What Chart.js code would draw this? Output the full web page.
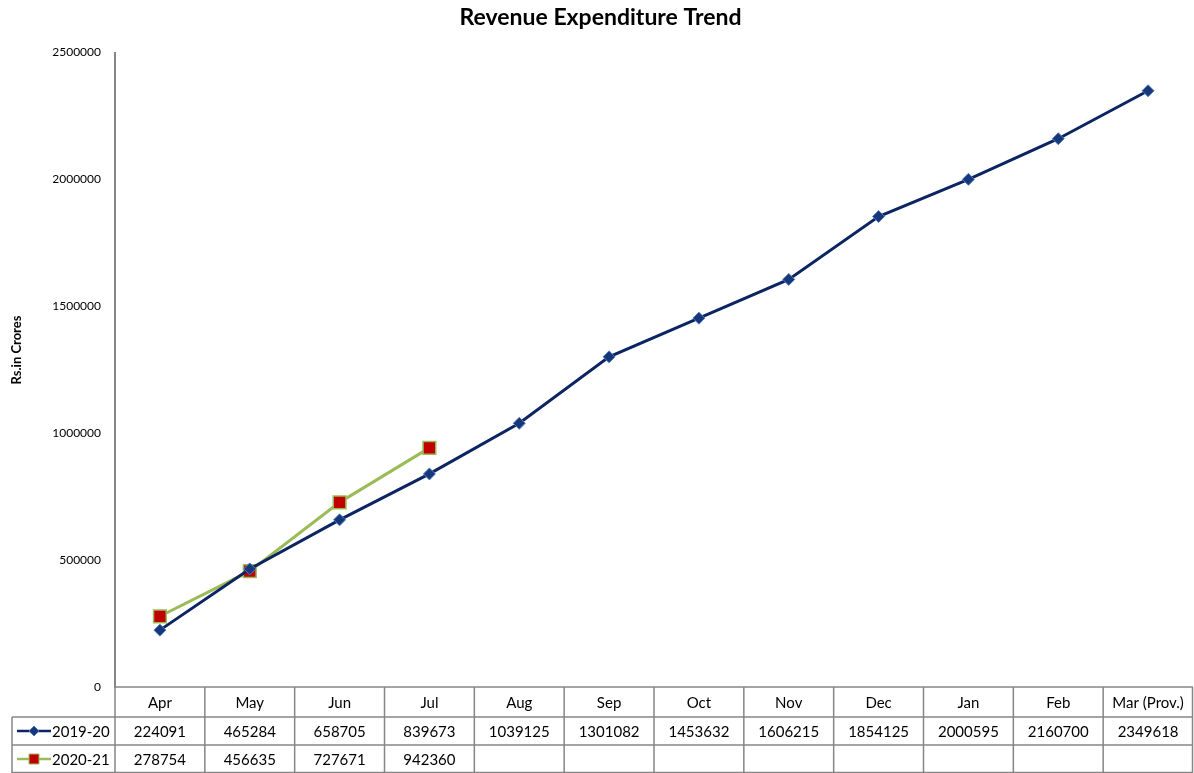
<!DOCTYPE html>
<html><head><meta charset="utf-8">
<script src="https://cdn.jsdelivr.net/npm/chart.js@4.4.0/dist/chart.umd.min.js"></script>
<style>html,body{margin:0;padding:0;background:#fff;}#wrap{width:1194px;height:773px;position:relative;}</style>
</head><body><div id="wrap"><canvas id="c" width="1194" height="773"></canvas></div>
<script>
const categories = ["Apr","May","Jun","Jul","Aug","Sep","Oct","Nov","Dec","Jan","Feb","Mar (Prov.)"];
const series2019 = [224091,465284,658705,839673,1039125,1301082,1453632,1606215,1854125,2000595,2160700,2349618];
const series2020 = [278754,456635,727671,942360,null,null,null,null,null,null,null,null];
const seriesNames = ["2019-20","2020-21"];
const yTitle = 'Rs.in Crores';
const FONT = "Lato, 'Open Sans', sans-serif";
const GRID = '#868686';

const tablePlugin = {
  id:'dataTable',
  afterDraw(chart){
    const ctx = chart.ctx, ca = chart.chartArea, xs = chart.scales.x;
    const rowTops=[ca.bottom, ca.bottom+30, ca.bottom+58, 773];
    const colW = (ca.right-ca.left)/categories.length;
    const legLeft = 12;
    ctx.save();
    // y axis title
    ctx.fillStyle='#000'; ctx.font='bold 13px '+FONT; ctx.textAlign='center'; ctx.textBaseline='middle';
    ctx.translate(17, 350); ctx.rotate(-Math.PI/2); ctx.fillText(yTitle,0,0);
    ctx.setTransform(1,0,0,1,0,0);
    ctx.strokeStyle=GRID; ctx.lineWidth=1.5;
    ctx.beginPath();
    ctx.moveTo(ca.left, rowTops[0]); ctx.lineTo(ca.right, rowTops[0]);
    ctx.moveTo(legLeft, rowTops[1]); ctx.lineTo(ca.right, rowTops[1]);
    ctx.moveTo(legLeft, rowTops[2]); ctx.lineTo(ca.right, rowTops[2]);
    ctx.moveTo(legLeft, rowTops[3]-0.5); ctx.lineTo(ca.right, rowTops[3]-0.5);
    for(let i=0;i<=categories.length;i++){
      const x = Math.min(ca.left + i*colW, ca.right-0.5);
      ctx.moveTo(x, rowTops[0]); ctx.lineTo(x, rowTops[3]);
    }
    ctx.moveTo(legLeft, rowTops[1]); ctx.lineTo(legLeft, rowTops[3]);
    ctx.stroke();
    ctx.fillStyle='#000'; ctx.font='15px '+FONT; ctx.textAlign='center'; ctx.textBaseline='middle';
    categories.forEach((c,i)=>{
      const x = xs.getPixelForValue(i);
      ctx.fillText(c, x, (rowTops[0]+rowTops[1])/2+1);
      if(series2019[i]!=null) ctx.fillText(String(series2019[i]), x, (rowTops[1]+rowTops[2])/2+1);
      if(series2020[i]!=null) ctx.fillText(String(series2020[i]), x, (rowTops[2]+rowTops[3])/2+1);
    });
    const dsets = chart.data.datasets;
    [1,2].forEach((r,k)=>{
      const y=(rowTops[r]+rowTops[r+1])/2;
      const ds=dsets[k];
      ctx.strokeStyle=ds.borderColor; ctx.lineWidth=2.5;
      ctx.beginPath(); ctx.moveTo(17,y); ctx.lineTo(51,y); ctx.stroke();
      ctx.fillStyle=ds.pointBackgroundColor; ctx.strokeStyle=ds.pointBorderColor; ctx.lineWidth=1;
      ctx.beginPath();
      if(k===0){ ctx.moveTo(34,y-5); ctx.lineTo(39,y); ctx.lineTo(34,y+5); ctx.lineTo(29,y); ctx.closePath(); }
      else { ctx.rect(29,y-5,10,10); }
      ctx.fill(); ctx.stroke();
      ctx.fillStyle='#000'; ctx.textAlign='left';
      ctx.fillText(seriesNames[k], 52, y+1);
    });
    ctx.restore();
  }
};

new Chart(document.getElementById('c'),{
  type:'line',
  data:{labels:categories,datasets:[
    {label:seriesNames[0],data:series2019,borderColor:'#0C2461',borderWidth:3,pointStyle:'rectRot',pointRadius:6,
     pointBackgroundColor:'#17377A',pointBorderColor:'#4F7EC0',pointBorderWidth:1,tension:0},
    {label:seriesNames[1],data:series2020,borderColor:'#9BBB59',borderWidth:3,pointStyle:'rect',pointRadius:9,
     pointBackgroundColor:'#C00000',pointBorderColor:'#9BBB59',pointBorderWidth:1.5,tension:0,spanGaps:false}
  ]},
  options:{
    responsive:false,animation:false,
    layout:{autoPadding:false,padding:{left:8,right:1,top:0,bottom:86}},
    plugins:{
      legend:{display:false},tooltip:{enabled:false},
      title:{display:true,text:'Revenue Expenditure Trend',color:'#000',font:{family:FONT,size:23,weight:'bold'},padding:{top:4,bottom:21}}
    },
    scales:{
      x:{display:false,offset:true,grid:{display:false}},
      y:{min:0,max:2500000,
         ticks:{stepSize:500000,color:'#000',font:{family:FONT,size:12},padding:14,callback:v=>String(v)},
         grid:{display:false,drawTicks:false},
         border:{display:true,color:GRID,width:2},
         afterFit(s){s.width=107;}
      }
    }
  },
  plugins:[tablePlugin]
});
</script></body></html>
